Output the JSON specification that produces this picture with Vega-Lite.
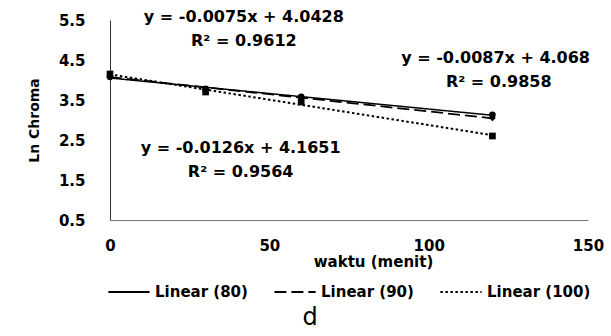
{
  "$schema": "https://vega.github.io/schema/vega-lite/v6.json",
  "width": 478,
  "height": 200,
  "autosize": "none",
  "padding": {"left": 110, "top": 20, "right": 23, "bottom": 116},
  "background": "white",
  "title": {"text": "d", "orient": "bottom", "offset": 6, "dx": -39, "fontSize": 24, "fontWeight": "normal", "font": "DejaVu Sans", "color": "#000"},
  "config": {"view": {"stroke": null}, "font": "DejaVu Sans"},
  "resolve": {"scale": {"shape": "independent"}, "legend": {"shape": "independent", "strokeDash": "independent"}},
  "datasets": {
    "pts": [
      {"waktu": 0, "ln": 4.08, "series": "Linear (80)"},
      {"waktu": 30, "ln": 3.78, "series": "Linear (80)"},
      {"waktu": 60, "ln": 3.58, "series": "Linear (80)"},
      {"waktu": 120, "ln": 3.13, "series": "Linear (80)"},
      {"waktu": 0, "ln": 4.12, "series": "Linear (90)"},
      {"waktu": 30, "ln": 3.74, "series": "Linear (90)"},
      {"waktu": 60, "ln": 3.58, "series": "Linear (90)"},
      {"waktu": 120, "ln": 3.05, "series": "Linear (90)"},
      {"waktu": 0, "ln": 4.15, "series": "Linear (100)"},
      {"waktu": 30, "ln": 3.70, "series": "Linear (100)"},
      {"waktu": 60, "ln": 3.45, "series": "Linear (100)"},
      {"waktu": 120, "ln": 2.60, "series": "Linear (100)"}
    ],
    "notes": [
      {"waktu": 42, "ln": 5.58, "label": "y = -0.0075x + 4.0428"},
      {"waktu": 42, "ln": 4.98, "label": "R² = 0.9612"},
      {"waktu": 121, "ln": 4.55, "label": "y = -0.0087x + 4.068"},
      {"waktu": 122, "ln": 3.95, "label": "R² = 0.9858"},
      {"waktu": 41, "ln": 2.3, "label": "y = -0.0126x + 4.1651"},
      {"waktu": 41, "ln": 1.7, "label": "R² = 0.9564"}
    ]
  },
  "encoding": {
    "x": {"field": "waktu", "type": "quantitative", "scale": {"domain": [0, 150], "nice": false},
      "axis": {"values": [0, 50, 100, 150], "format": "d", "labelFlush": false, "grid": false, "ticks": false, "domainColor": "#777", "domainWidth": 1,
        "labelFontSize": 15, "labelFontWeight": "bold", "labelColor": "#000", "labelPadding": 18,
        "title": "waktu (menit)", "titleFontSize": 15, "titleFontWeight": "bold", "titleColor": "#000", "titlePadding": 1, "titleX": 263}},
    "y": {"field": "ln", "type": "quantitative", "scale": {"domain": [0.5, 5.5], "nice": false, "zero": false},
      "axis": {"values": [0.5, 1.5, 2.5, 3.5, 4.5, 5.5], "format": ".1f", "labelFlush": false, "grid": false, "ticks": false, "domainColor": "#333", "domainWidth": 1,
        "labelFontSize": 15, "labelFontWeight": "bold", "labelColor": "#000", "labelPadding": 25,
        "title": "Ln Chroma", "titleFontSize": 14, "titleFontWeight": "bold", "titleColor": "#000", "titlePadding": 17}}
  },
  "layer": [
    {
      "data": {"name": "pts"},
      "transform": [{"regression": "ln", "on": "waktu", "groupby": ["series"], "extent": [0, 120]}],
      "mark": {"type": "line", "color": "#000", "clip": false},
      "encoding": {
        "strokeDash": {"field": "series", "type": "nominal",
          "scale": {"domain": ["Linear (80)", "Linear (90)", "Linear (100)"], "range": [[1, 0], [12, 5], [2.5, 2.5]]},
          "legend": {"orient": "none", "legendX": -3, "legendY": 250, "direction": "horizontal", "columns": 3, "title": null,
            "symbolType": "stroke", "symbolSize": 1700, "symbolStrokeColor": "#000", "symbolStrokeWidth": 2,
            "labelFontSize": 15, "labelFontWeight": "bold", "labelColor": "#000", "labelOffset": 4, "columnPadding": 22, "labelLimit": 200}},
        "strokeWidth": {"field": "series", "type": "nominal",
          "scale": {"domain": ["Linear (80)", "Linear (90)", "Linear (100)"], "range": [1.5, 2, 3]}, "legend": null}
      }
    },
    {
      "data": {"name": "pts"},
      "mark": {"type": "point", "filled": true, "color": "#000", "opacity": 1, "size": 45},
      "encoding": {
        "shape": {"field": "series", "type": "nominal",
          "scale": {"domain": ["Linear (80)", "Linear (90)", "Linear (100)"], "range": ["circle", "diamond", "square"]}, "legend": null}
      }
    },
    {
      "data": {"name": "notes"},
      "mark": {"type": "text", "fontSize": 16, "fontWeight": "bold", "color": "#000", "align": "center", "baseline": "middle", "clip": false},
      "encoding": {
        "text": {"field": "label"}
      }
    }
  ]
}
